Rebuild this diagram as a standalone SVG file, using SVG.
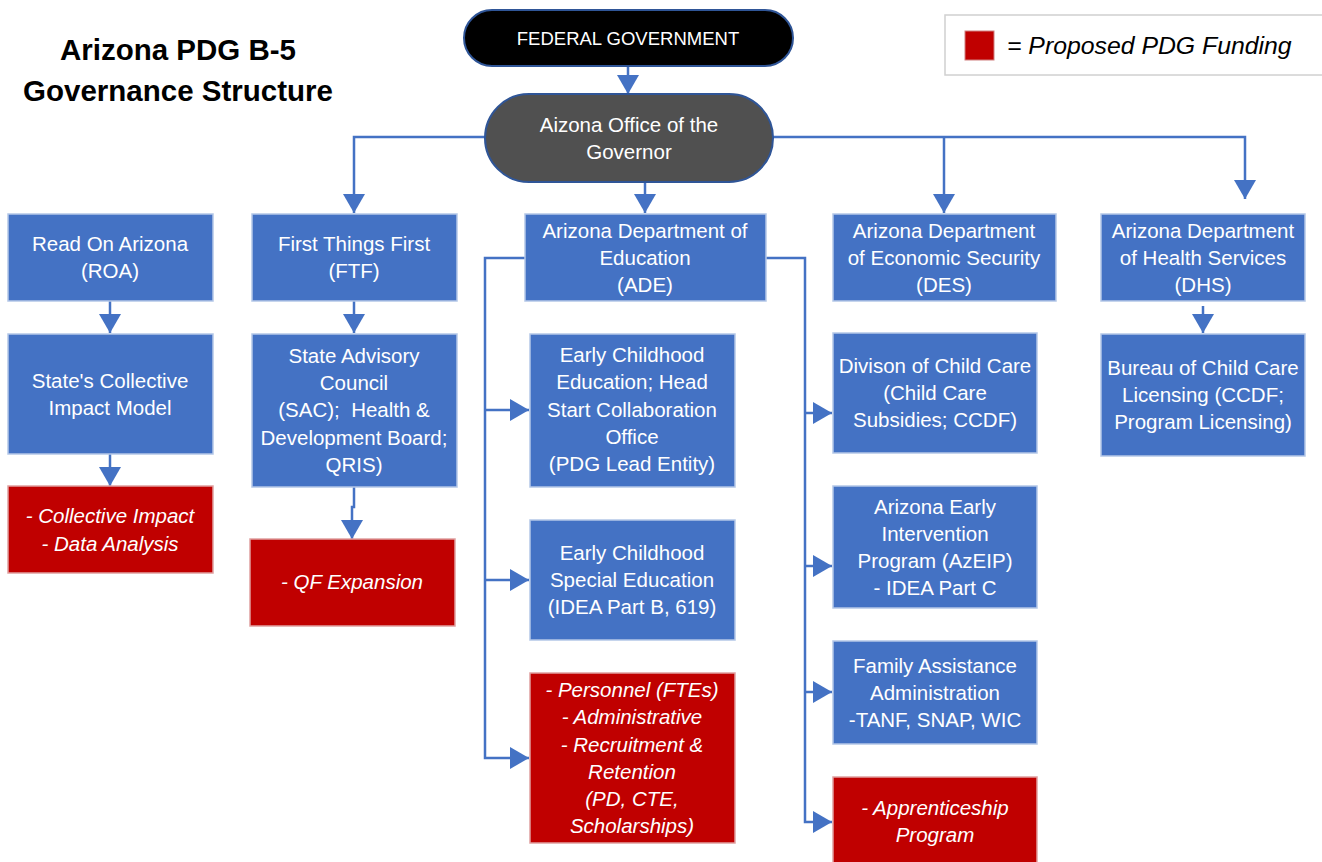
<svg xmlns="http://www.w3.org/2000/svg" width="1322" height="862" viewBox="0 0 1322 862">
<defs>
<marker id="ah" markerUnits="userSpaceOnUse" markerWidth="22" markerHeight="22" refX="19" refY="11" orient="auto">
<path d="M0,0 L19,11 L0,22 Z" fill="#4472C4"/>
</marker>
<style>
.box{fill:#4472C4;stroke:#B4C7E7;stroke-width:1.5}
.red{fill:#C00000;stroke:#E0A0A0;stroke-width:1.5}
.t{font-family:"Liberation Sans",Arial,sans-serif;font-size:20.5px;fill:#FFFFFF;text-anchor:middle}
.ti{font-family:"Liberation Sans",Arial,sans-serif;font-size:20.5px;fill:#FFFFFF;text-anchor:middle;font-style:italic}
.c{fill:none;stroke:#4472C4;stroke-width:2.5}
.ca{fill:none;stroke:#4472C4;stroke-width:2.5;marker-end:url(#ah)}
</style>
</defs>
<rect width="1322" height="862" fill="#FFFFFF"/>

<g id="title">
<text x="178" y="60" font-family="Liberation Sans,Arial,sans-serif" font-size="29.5" font-weight="bold" text-anchor="middle" fill="#000">Arizona PDG B-5</text>
<text x="178" y="101" font-family="Liberation Sans,Arial,sans-serif" font-size="29.5" font-weight="bold" text-anchor="middle" fill="#000">Governance Structure</text>
</g>

<g id="legend">
<rect x="945" y="15" width="385" height="60" fill="#FFFFFF" stroke="#D0D0D0" stroke-width="1.5"/>
<rect x="965" y="31" width="29" height="29" fill="#C00000" stroke="#D08080" stroke-width="1"/>
<text x="1007" y="54" font-family="Liberation Sans,Arial,sans-serif" font-size="24.8" font-style="italic" fill="#000">= Proposed PDG Funding</text>
</g>

<g id="connectors">
<path class="ca" d="M628,66 V94"/>
<path class="ca" d="M485,137 H354 V213"/>
<path class="ca" d="M773,137 H1245 V199"/>
<path class="ca" d="M944,137 V213"/>
<path class="ca" d="M645,182 V213"/>
<path class="ca" d="M110,301 V333"/>
<path class="ca" d="M110,454 V486"/>
<path class="ca" d="M354,301 V333"/>
<path class="ca" d="M354,487 V507 H352 V539"/>
<path class="ca" d="M525,258 H485 V758 H529"/>
<path class="ca" d="M485,410 H529"/>
<path class="ca" d="M485,580 H529"/>
<path class="ca" d="M766,258 H805 V822 H832"/>
<path class="ca" d="M805,413 H832"/>
<path class="ca" d="M805,566 H832"/>
<path class="ca" d="M805,692 H832"/>
<path class="ca" d="M1203,306 V333"/>
</g>

<g id="federal">
<rect x="464" y="10" width="329" height="56" rx="28" fill="#000000" stroke="#2F5597" stroke-width="2"/>
<text class="t" x="628" y="45" style="font-size:18.5px">FEDERAL GOVERNMENT</text>
</g>

<g id="governor">
<rect x="485" y="94" width="288" height="88" rx="44" fill="#505050" stroke="#2F5597" stroke-width="2"/>
<text class="t" x="629" y="132">Aizona Office of the</text>
<text class="t" x="629" y="159">Governor</text>
</g>

<g id="roa">
<rect class="box" x="8" y="214" width="205" height="87"/>
<text class="t" x="110" y="251">Read On Arizona</text>
<text class="t" x="110" y="278">(ROA)</text>
</g>

<g id="scim">
<rect class="box" x="8" y="334" width="205" height="120"/>
<text class="t" x="110" y="388">State's Collective</text>
<text class="t" x="110" y="415">Impact Model</text>
</g>

<g id="roa-funding">
<rect class="red" x="8" y="486" width="205" height="87"/>
<text class="ti" x="110" y="523">- Collective Impact</text>
<text class="ti" x="110" y="551">- Data Analysis</text>
</g>

<g id="ftf">
<rect class="box" x="252" y="214" width="205" height="87"/>
<text class="t" x="354" y="251">First Things First</text>
<text class="t" x="354" y="278">(FTF)</text>
</g>

<g id="sac">
<rect class="box" x="252" y="334" width="205" height="153"/>
<text class="t" x="354" y="363">State Advisory</text>
<text class="t" x="354" y="390">Council</text>
<text class="t" x="354" y="417" style="white-space:pre">(SAC);  Health &amp;</text>
<text class="t" x="354" y="445">Development Board;</text>
<text class="t" x="354" y="472">QRIS)</text>
</g>

<g id="ftf-funding">
<rect class="red" x="250" y="539" width="205" height="87"/>
<text class="ti" x="352" y="589">- QF Expansion</text>
</g>

<g id="ade">
<rect class="box" x="525" y="214" width="241" height="87"/>
<text class="t" x="645" y="238">Arizona Department of</text>
<text class="t" x="645" y="265">Education</text>
<text class="t" x="645" y="292">(ADE)</text>
</g>

<g id="ece">
<rect class="box" x="530" y="334" width="205" height="153"/>
<text class="t" x="632" y="362">Early Childhood</text>
<text class="t" x="632" y="389">Education; Head</text>
<text class="t" x="632" y="417">Start Collaboration</text>
<text class="t" x="632" y="444">Office</text>
<text class="t" x="632" y="471">(PDG Lead Entity)</text>
</g>

<g id="ecse">
<rect class="box" x="530" y="520" width="205" height="120"/>
<text class="t" x="632" y="560">Early Childhood</text>
<text class="t" x="632" y="587">Special Education</text>
<text class="t" x="632" y="614">(IDEA Part B, 619)</text>
</g>

<g id="ade-funding">
<rect class="red" x="530" y="673" width="205" height="170"/>
<text class="ti" x="632" y="697">- Personnel (FTEs)</text>
<text class="ti" x="632" y="724">- Administrative</text>
<text class="ti" x="632" y="752">- Recruitment &amp;</text>
<text class="ti" x="632" y="779">Retention</text>
<text class="ti" x="632" y="806">(PD, CTE,</text>
<text class="ti" x="632" y="833">Scholarships)</text>
</g>

<g id="des">
<rect class="box" x="833" y="214" width="223" height="87"/>
<text class="t" x="944" y="238">Arizona Department</text>
<text class="t" x="944" y="265">of Economic Security</text>
<text class="t" x="944" y="292">(DES)</text>
</g>

<g id="dcc">
<rect class="box" x="833" y="333" width="204" height="120"/>
<text class="t" x="935" y="373">Divison of Child Care</text>
<text class="t" x="935" y="400">(Child Care</text>
<text class="t" x="935" y="427">Subsidies; CCDF)</text>
</g>

<g id="azeip">
<rect class="box" x="833" y="486" width="204" height="122"/>
<text class="t" x="935" y="514">Arizona Early</text>
<text class="t" x="935" y="541">Intervention</text>
<text class="t" x="935" y="568">Program (AzEIP)</text>
<text class="t" x="935" y="595">- IDEA Part C</text>
</g>

<g id="faa">
<rect class="box" x="833" y="641" width="204" height="103"/>
<text class="t" x="935" y="673">Family Assistance</text>
<text class="t" x="935" y="700">Administration</text>
<text class="t" x="935" y="727">-TANF, SNAP, WIC</text>
</g>

<g id="des-funding">
<rect class="red" x="833" y="777" width="204" height="95"/>
<text class="ti" x="935" y="815">- Apprenticeship</text>
<text class="ti" x="935" y="842">Program</text>
</g>

<g id="dhs">
<rect class="box" x="1101" y="214" width="204" height="87"/>
<text class="t" x="1203" y="238">Arizona Department</text>
<text class="t" x="1203" y="265">of Health Services</text>
<text class="t" x="1203" y="292">(DHS)</text>
</g>

<g id="bccl">
<rect class="box" x="1101" y="334" width="204" height="122"/>
<text class="t" x="1203" y="375">Bureau of Child Care</text>
<text class="t" x="1203" y="402">Licensing (CCDF;</text>
<text class="t" x="1203" y="429">Program Licensing)</text>
</g>
</svg>
